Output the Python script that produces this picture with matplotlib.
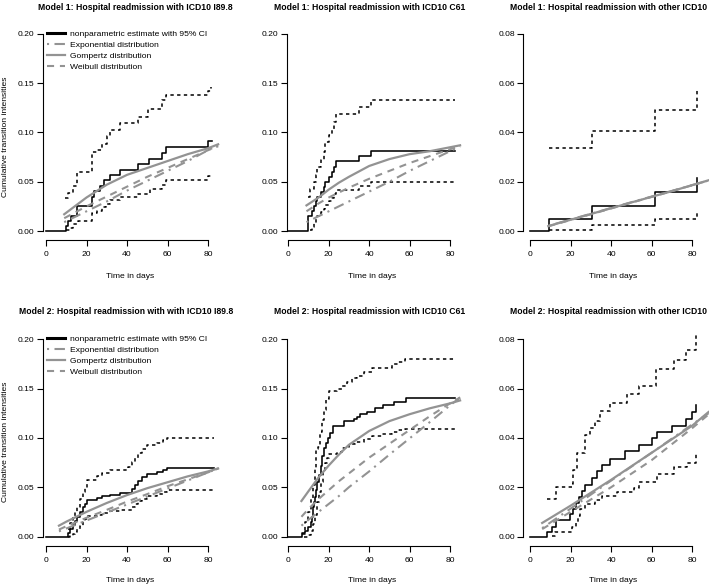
import numpy as np
import matplotlib
matplotlib.use("Agg")
import matplotlib.pyplot as plt
import matplotlib.lines as mlines

plt.rcParams['font.family'] = ['Liberation Sans', 'DejaVu Sans']

# ---- data (x = days, y = cumulative intensity) ----
titles = ["Model 1: Hospital readmission with ICD10 I89.8",
          "Model 1: Hospital readmission with ICD10 C61",
          "Model 1: Hospital readmission with other ICD10",
          "Model 2: Hospital readmission with with ICD10 I89.8",
          "Model 2: Hospital readmission with ICD10 C61",
          "Model 2: Hospital readmission with other ICD10"]
ytop_ticks = [0.2, 0.2, 0.08, 0.2, 0.2, 0.08]
legend_labels = ["nonparametric estimate with 95% CI", "Exponential distribution",
                 "Gompertz distribution", "Weibull distribution"]

# panel 1
np1_t = [0, 9.7, 11, 12.5, 15.5, 22.5, 23.5, 26.5, 28.5, 31.5, 36.5, 45.5, 51, 57.5, 59.5, 80, 82]
np1_v = [0, 0.005, 0.01, 0.015, 0.025, 0.035, 0.041, 0.046, 0.052, 0.057, 0.062, 0.068, 0.073, 0.079, 0.085, 0.091, 0.091]
up1_t = [9.5, 11, 13.5, 15.5, 22.5, 25, 27.5, 30, 31.5, 36.5, 45.5, 50.5, 57.5, 59.5, 80, 81.5]
up1_v = [0.034, 0.039, 0.046, 0.06, 0.08, 0.082, 0.088, 0.096, 0.103, 0.11, 0.116, 0.124, 0.133, 0.138, 0.142, 0.146]
lo1_t = [9.7, 11.9, 13.5, 16, 22.5, 25, 27.5, 29.5, 31.5, 36.5, 45.5, 51.5, 57.5, 59.5, 80, 82]
lo1_v = [0.001, 0.0035, 0.007, 0.01, 0.018, 0.02, 0.024, 0.027, 0.031, 0.035, 0.038, 0.043, 0.047, 0.052, 0.056, 0.056]
fit1_x = [9, 20, 30, 40, 50, 60, 70, 80, 85]
exp1 = [0.009, 0.020, 0.030, 0.041, 0.051, 0.061, 0.071, 0.082, 0.087]
gom1 = [0.017, 0.034, 0.047, 0.057, 0.064, 0.071, 0.078, 0.084, 0.088]
wei1 = [0.013, 0.025, 0.035, 0.045, 0.055, 0.064, 0.073, 0.082, 0.086]

# panel 2
np2_t = [0, 9.9, 11.5, 12.6, 13.5, 14.3, 16.4, 17.6, 18.4, 20, 21.4, 22.5, 23.7, 35.2, 41, 82.5]
np2_v = [0, 0.015, 0.02, 0.025, 0.03, 0.035, 0.04, 0.045, 0.05, 0.055, 0.06, 0.065, 0.071, 0.076, 0.081, 0.081]
up2_t = [9.9, 10.5, 12.6, 13.5, 14.3, 16.4, 17.6, 18.4, 20, 21.4, 22.5, 23.7, 35.2, 41, 82.5]
up2_v = [0.035, 0.043, 0.05, 0.057, 0.065, 0.072, 0.08, 0.09, 0.097, 0.104, 0.111, 0.119, 0.126, 0.133, 0.133]
lo2_t = [10.5, 11.5, 12.6, 13.5, 14.3, 16.4, 17.6, 18.4, 20, 21.4, 22.5, 23.7, 35.2, 41, 82.5]
lo2_v = [0.001, 0.004, 0.008, 0.012, 0.015, 0.019, 0.022, 0.026, 0.03, 0.034, 0.038, 0.042, 0.046, 0.05, 0.05]
fit2_x = [9, 15, 20, 25, 30, 40, 50, 60, 70, 80, 85]
exp2 = [0.009, 0.015, 0.020, 0.025, 0.030, 0.040, 0.050, 0.061, 0.071, 0.081, 0.086]
gom2 = [0.026, 0.034, 0.042, 0.049, 0.055, 0.066, 0.073, 0.078, 0.081, 0.085, 0.087]
wei2 = [0.020, 0.028, 0.034, 0.039, 0.044, 0.053, 0.061, 0.069, 0.076, 0.083, 0.086]

# panel 3
np3_t = [0, 9.4, 30.8, 61.4, 82.5]
np3_v = [0, 0.0048, 0.0102, 0.0157, 0.0217]
up3_t = [9.4, 30.8, 61.4, 82.5]
up3_v = [0.0339, 0.0406, 0.0492, 0.058]
lo3_t = [9.4, 30.8, 61.4, 82.5]
lo3_v = [0.0006, 0.0024, 0.005, 0.0083]
fit3_x = [9, 30, 50, 70, 88]
exp3 = [0.0021, 0.0070, 0.0117, 0.0163, 0.0205]
gom3 = [0.0020, 0.0069, 0.0116, 0.0162, 0.0206]
wei3 = [0.0019, 0.0068, 0.0115, 0.0162, 0.0205]

# panel 4
np4_t = [0, 10.7, 11.9, 13.2, 14.3, 15.5, 16.8, 18.4, 19.3, 20.1, 25, 27.5, 31.6, 36.5, 42.3, 43.9,
         45.6, 47.2, 49.7, 54.6, 57.9, 59.6, 83]
np4_v = [0, 0.004, 0.008, 0.012, 0.016, 0.02, 0.025, 0.03, 0.033, 0.037, 0.039, 0.041, 0.042, 0.044,
         0.048, 0.052, 0.056, 0.06, 0.063, 0.065, 0.067, 0.069, 0.069]
up4_t = [10.7, 11.9, 13.2, 14.3, 15.5, 16.8, 18.4, 19.3, 20.1, 25, 27.5, 31.6, 40.5, 42.3, 43.9,
         45.6, 47.2, 49.7, 54.6, 57.9, 59.6, 83]
up4_v = [0.008, 0.014, 0.02, 0.025, 0.03, 0.038, 0.045, 0.049, 0.057, 0.061, 0.064, 0.067, 0.07,
         0.076, 0.08, 0.085, 0.089, 0.093, 0.095, 0.098, 0.1, 0.1]
lo4_t = [10.7, 11.9, 13.2, 14.3, 15.5, 16.8, 18.4, 19.3, 20.1, 25, 27.5, 31.6, 36.5, 42.3, 43.9,
         45.6, 47.2, 49.7, 54.6, 57.9, 59.6, 83]
lo4_v = [0.0, 0.001, 0.003, 0.005, 0.008, 0.011, 0.015, 0.018, 0.021, 0.022, 0.024, 0.026, 0.027,
         0.03, 0.033, 0.036, 0.038, 0.041, 0.043, 0.045, 0.047, 0.047]
fit4_x = [6.4, 10, 20, 30, 40, 50, 60, 70, 80, 85]
exp4 = [0.0052, 0.0081, 0.0162, 0.0243, 0.0325, 0.0406, 0.0487, 0.0568, 0.065, 0.069]
gom4 = [0.011, 0.015, 0.025, 0.034, 0.042, 0.049, 0.055, 0.061, 0.066, 0.069]
wei4 = [0.007, 0.0104, 0.019, 0.027, 0.0354, 0.043, 0.051, 0.058, 0.065, 0.069]

# panel 5
np5_t = [0, 6.9, 8.5, 9.9, 11, 11.8, 12.2, 12.8, 13.1, 13.8, 14.3, 15.1, 16.1, 16.8, 17.6, 18.7, 19.7,
         20.5, 22, 27.4, 32.4, 34, 35.6, 38.9, 42.7, 47.1, 52.1, 58.2, 82.5]
np5_v = [0, 0.004, 0.006, 0.01, 0.015, 0.02, 0.03, 0.035, 0.04, 0.047, 0.055, 0.062, 0.072, 0.082, 0.09,
         0.095, 0.1, 0.105, 0.112, 0.117, 0.119, 0.121, 0.124, 0.126, 0.13, 0.133, 0.136, 0.14, 0.14]
up5_t = [6.9, 8.5, 9.9, 11, 12.2, 13.1, 13.8, 14.8, 15.9, 16.8, 17.6, 18.7, 20, 24.1, 26.6, 29.1, 31.5,
         34, 37.3, 41.4, 51.3, 54.5, 57.8, 82.5]
up5_v = [0.003, 0.015, 0.025, 0.039, 0.052, 0.069, 0.089, 0.091, 0.106, 0.118, 0.128, 0.139, 0.148, 0.15,
         0.153, 0.157, 0.161, 0.163, 0.167, 0.171, 0.175, 0.177, 0.18, 0.18]
lo5_t = [7.7, 9.9, 11, 12.2, 13.1, 14.3, 15.1, 16.1, 17.1, 18.4, 19.2, 20, 24.1, 26.6, 29.9, 33.2, 37.3,
         41.4, 46.3, 51.3, 54.5, 57.8, 82.5]
lo5_v = [0.0, 0.002, 0.006, 0.013, 0.022, 0.035, 0.045, 0.055, 0.066, 0.075, 0.08, 0.084, 0.086, 0.09,
         0.094, 0.096, 0.099, 0.102, 0.104, 0.106, 0.108, 0.109, 0.109]
fit5_x = [6.5, 10, 15, 20, 25, 30, 40, 50, 60, 70, 80, 85]
exp5 = [0.011, 0.017, 0.025, 0.033, 0.041, 0.050, 0.066, 0.083, 0.0995, 0.116, 0.133, 0.141]
gom5 = [0.036, 0.046, 0.060, 0.072, 0.083, 0.093, 0.107, 0.117, 0.124, 0.130, 0.135, 0.138]
wei5 = [0.020, 0.028, 0.038, 0.047, 0.056, 0.064, 0.080, 0.094, 0.108, 0.122, 0.135, 0.141]

# panel 6
np6_t = [0, 8.6, 10.7, 12.9, 19.8, 21.1, 22.8, 24, 25.5, 27.2, 30.5, 33, 35.5, 39.6, 47, 53.6, 60.2,
         62.7, 70.1, 76.7, 80, 82]
np6_v = [0, 0.002, 0.004, 0.0065, 0.009, 0.011, 0.0135, 0.016, 0.0185, 0.021, 0.0237, 0.0265, 0.029,
         0.0315, 0.0345, 0.037, 0.0398, 0.0425, 0.045, 0.0475, 0.0505, 0.0535]
up6_t = [8.6, 12.9, 20.6, 21.4, 23.1, 27.2, 29.7, 32.2, 34.6, 39.6, 47.8, 53.6, 61.9, 70.9, 76.7, 82]
up6_v = [0.0153, 0.02, 0.0215, 0.027, 0.034, 0.041, 0.044, 0.047, 0.051, 0.054, 0.058, 0.061, 0.068,
         0.0715, 0.0755, 0.082]
lo6_t = [10.7, 12.4, 20.6, 22.8, 23.9, 24.7, 27.2, 32.2, 35.5, 42.9, 51.1, 53.6, 62.7, 70.9, 77.5, 82]
lo6_v = [0.0004, 0.002, 0.004, 0.006, 0.0085, 0.011, 0.013, 0.015, 0.0165, 0.018, 0.0195, 0.022, 0.0255,
         0.028, 0.03, 0.034]
fit6_x = [6, 20, 40, 60, 80, 88]
exp6 = [0.0034, 0.0113, 0.0227, 0.034, 0.0455, 0.050]
gom6 = [0.0055, 0.0125, 0.023, 0.034, 0.045, 0.0505]
wei6 = [0.003, 0.010, 0.020, 0.031, 0.044, 0.0495]

panels = [
    (np1_t, np1_v, up1_t, up1_v, lo1_t, lo1_v, fit1_x, exp1, gom1, wei1),
    (np2_t, np2_v, up2_t, up2_v, lo2_t, lo2_v, fit2_x, exp2, gom2, wei2),
    (np3_t, np3_v, up3_t, up3_v, lo3_t, lo3_v, fit3_x, exp3, gom3, wei3),
    (np4_t, np4_v, up4_t, up4_v, lo4_t, lo4_v, fit4_x, exp4, gom4, wei4),
    (np5_t, np5_v, up5_t, up5_v, lo5_t, lo5_v, fit5_x, exp5, gom5, wei5),
    (np6_t, np6_v, up6_t, up6_v, lo6_t, lo6_v, fit6_x, exp6, gom6, wei6),
]

# ---- layout (pixel positions measured on the 709x586 reference) ----
W, H = 709, 586
col_x0 = [46, 288.3, 530]        # pixel of x = 0
col_sc = [2.025, 2.021, 2.029]   # pixels per day
col_left = [43, 287, 523.3]      # y-axis line
row_y0 = [231, 536.5]            # pixel of y = 0
row_ytop = [34, 339.3]           # pixel of top tick
row_bot = [240, 545.5]           # x-axis line
title_right = [233, 465, 707.5]  # titles end at the same x in both rows
title_y = [7, 312]
xlab_x = [130, 372, 613]
xlab_y = [276, 581]

gray = "#939393"
fs = 6.1
ls_ci = (0, (2.2, 2.2))
ls_exp = (0, (1, 2.6, 5, 2.6))
ls_wei = (0, (3.4, 2.8))

fig = plt.figure(figsize=(W / 100, H / 100), dpi=100)

for i, p in enumerate(panels):
    r, c = divmod(i, 3)
    npt, npv, upt, upv, lot, lov, fx, fexp, fgom, fwei = p
    top_tick = ytop_ticks[i]
    xmax = 88.5
    left = col_left[c]
    right = col_x0[c] + xmax * col_sc[c]
    xmin = (left - col_x0[c]) / col_sc[c]
    yscale = (row_y0[r] - row_ytop[r]) / top_tick
    ymin = -(row_bot[r] - row_y0[r]) / yscale
    ymax = top_tick * 1.04
    top = row_y0[r] - ymax * yscale
    ax = fig.add_axes([left / W, 1 - row_bot[r] / H, (right - left) / W, (row_bot[r] - top) / H])
    ax.set_xlim(xmin, xmax)
    ax.set_ylim(ymin, ymax)
    ax.patch.set_alpha(0)

    ax.step(npt, npv, where='post', color='black', lw=1.15)
    ax.step(upt, upv, where='post', color='black', lw=1.1, linestyle=ls_ci)
    ax.step(lot, lov, where='post', color='black', lw=1.1, linestyle=ls_ci)
    ax.plot(fx, fexp, color=gray, lw=1.5, linestyle=ls_exp)
    ax.plot(fx, fgom, color=gray, lw=1.6)
    ax.plot(fx, fwei, color=gray, lw=1.5, linestyle=ls_wei)

    for s in ['top', 'right']:
        ax.spines[s].set_visible(False)
    ax.spines['left'].set_bounds(0, top_tick)
    ax.spines['bottom'].set_bounds(0, 80)
    for s in ['left', 'bottom']:
        ax.spines[s].set_linewidth(0.8)
    ax.set_xticks([0, 20, 40, 60, 80])
    yt = np.linspace(0, top_tick, 5)
    ax.set_yticks(yt)
    ax.set_yticklabels(["%.2f" % v for v in yt])
    ax.tick_params(direction='out', length=4, width=0.8, labelsize=fs, pad=2)
    ax.tick_params(axis='x', pad=4)

    fig.text(title_right[c] / W, 1 - title_y[r] / H, titles[i], ha='right', va='center',
             fontsize=6.2, fontweight='bold')
    fig.text(xlab_x[c] / W, 1 - xlab_y[r] / H, "Time in days", ha='center', va='center', fontsize=fs)

    if c == 0:
        fig.text(6 / W, 1 - (137 + 305 * r) / H, "Cumulative transition intensities",
                 rotation=90, ha='center', va='center', fontsize=fs)
        hb = mlines.Line2D([], [], color='black', lw=2.2)
        he = mlines.Line2D([], [], color=gray, lw=1.5, linestyle=ls_exp)
        hg = mlines.Line2D([], [], color=gray, lw=1.6)
        hw = mlines.Line2D([], [], color=gray, lw=1.5, linestyle=ls_wei)
        ax.legend([hb, he, hg, hw], legend_labels, frameon=False, fontsize=fs,
                  loc='upper left',
                  bbox_to_anchor=((46.5 - left) / (right - left), (row_bot[r] - (30.5 + 305 * r)) / (row_bot[r] - top)),
                  handlelength=2.2, handletextpad=0.6, labelspacing=0.36, borderpad=0, borderaxespad=0)

fig.savefig("out.png", dpi=100)
